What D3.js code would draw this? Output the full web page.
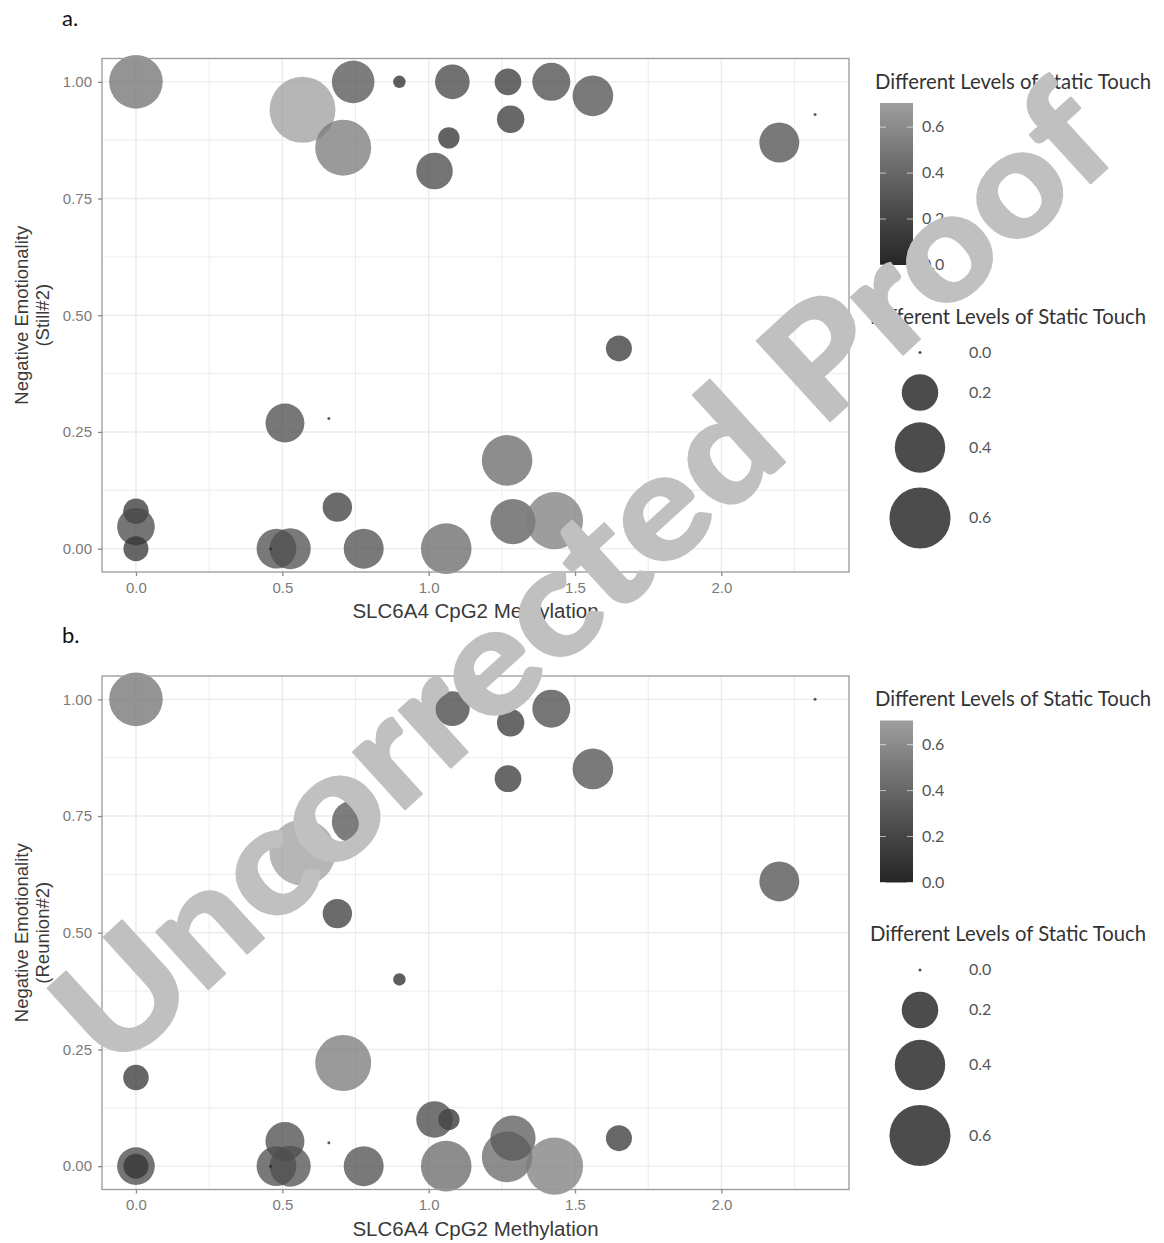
<!DOCTYPE html>
<html>
<head>
<meta charset="utf-8">
<script src="https://cdn.jsdelivr.net/npm/d3@7"></script>
<style>
  html, body { margin: 0; padding: 0; background: #fff; }
  svg { display: block; }
</style>
</head>
<body>
<svg id="chart" width="1164" height="1243"></svg>
<script>
// SLC6A4 CpG2 methylation for each infant
const methylation = [0.00, 0.569, 0.742, 0.900, 1.081, 0.708, 1.069, 1.020, 1.271, 1.419,
                     1.561, 1.280, 2.320, 2.198, 0.509, 0.659, 0.688, 0.000, 0.000, 0.000,
                     0.480, 0.527, 0.460, 0.778, 1.060, 1.650, 1.268, 1.288, 1.430];
// Different levels of static touch (mapped to both colour and size)
const staticTouch = [0.455, 0.705, 0.279, 0.016, 0.178, 0.500, 0.060, 0.200, 0.100, 0.218,
                     0.252, 0.106, 0.000, 0.243, 0.230, 0.000, 0.124, 0.090, 0.213, 0.086,
                     0.240, 0.257, 0.000, 0.243, 0.403, 0.094, 0.403, 0.316, 0.520];
// Negative emotionality, Still#2 episode
const stillNeg = [1.00, 0.94, 1.00, 1.00, 1.00, 0.859, 0.88, 0.809, 1.00, 1.00,
                  0.97, 0.92, 0.93, 0.87, 0.269, 0.279, 0.089, 0.08, 0.047, 0.00,
                  0.00, 0.00, 0.00, 0.00, 0.00, 0.429, 0.189, 0.058, 0.06];
// Negative emotionality, Reunion#2 episode
const reunionNeg = [1.00, 0.672, 0.738, 0.40, 0.98, 0.221, 0.10, 0.10, 0.83, 0.98,
                    0.851, 0.95, 1.00, 0.61, 0.053, 0.05, 0.541, 0.19, 0.00, 0.00,
                    0.00, 0.00, 0.00, 0.00, 0.00, 0.06, 0.02, 0.06, 0.00];

const xTicks = [0.0, 0.5, 1.0, 1.5, 2.0];
const yTicks = [0.00, 0.25, 0.50, 0.75, 1.00];
const colourTicks = [0.0, 0.2, 0.4, 0.6];
const sizeBreaks = [0.0, 0.2, 0.4, 0.6];
const legendTitle = "Different Levels of Static Touch";
const xTitle = "SLC6A4 CpG2 Methylation";

const svg = d3.select("#chart");
svg.append("rect").attr("width", 1164).attr("height", 1243).attr("fill", "#fff");

const touchMax = d3.max(staticTouch);
const colour = d3.scaleLinear().domain([0, touchMax]).range(["#262626", "#9e9e9e"])
  .interpolate(d3.interpolateLab);
const radius = d3.scalePow().exponent(0.5).domain([0, 1]).range([1.5, 39]);
const x = d3.scaleLinear().domain([-0.116, 2.436]).range([102, 849]);

const tickFont = "'Liberation Sans', Arial, sans-serif";
const legendFont = "Lato, 'Open Sans', sans-serif";

function drawPanel(top, yValues, yLines, tag) {
  const g = svg.append("g");
  const y = d3.scaleLinear().domain([-0.05, 1.05]).range([top + 513.5, top]);
  const [x0, x1] = x.range();
  const [y0, y1] = y.range();

  // panel grid (major + minor)
  const xMinor = d3.range(-0.25, 2.5, 0.25).filter(v => v > -0.116 && v < 2.436);
  const yMinor = d3.range(-0.125, 1.1, 0.125).filter(v => v > -0.05 && v < 1.05);
  g.selectAll(".gx").data(xMinor).join("line")
    .attr("x1", d => x(d)).attr("x2", d => x(d)).attr("y1", y1).attr("y2", y0)
    .attr("stroke", "#ebebeb").attr("stroke-width", d => (Math.abs(d * 2 - Math.round(d * 2)) < 1e-6 ? 1.4 : 0.9));
  g.selectAll(".gy").data(yMinor).join("line")
    .attr("y1", d => y(d)).attr("y2", d => y(d)).attr("x1", x0).attr("x2", x1)
    .attr("stroke", "#ebebeb").attr("stroke-width", d => (Math.abs(d * 4 - Math.round(d * 4)) < 1e-6 ? 1.4 : 0.9));

  // points
  const pts = methylation.map((m, i) => ({ m, t: staticTouch[i], v: yValues[i] }));
  g.selectAll("circle.pt").data(pts).join("circle")
    .attr("class", "pt")
    .attr("cx", d => x(d.m)).attr("cy", d => y(d.v))
    .attr("r", d => radius(d.t))
    .attr("fill", d => colour(d.t))
    .attr("fill-opacity", 0.75);

  // border
  g.append("rect").attr("x", x0).attr("y", y1).attr("width", x1 - x0).attr("height", y0 - y1)
    .attr("fill", "none").attr("stroke", "#999").attr("stroke-width", 1.3);

  // axes
  const xAxis = d3.axisBottom(x).tickValues(xTicks).tickFormat(d3.format(".1f")).tickSize(4).tickPadding(6);
  const ax = g.append("g").attr("transform", `translate(0,${y0})`).call(xAxis);
  const yAxis = d3.axisLeft(y).tickValues(yTicks).tickFormat(d3.format(".2f")).tickSize(4).tickPadding(6);
  const ay = g.append("g").attr("transform", `translate(${x0},0)`).call(yAxis);
  [ax, ay].forEach(a => {
    a.select(".domain").remove();
    a.selectAll(".tick line").attr("stroke", "#8a8a8a").attr("stroke-width", 1.3);
    a.selectAll(".tick text").attr("fill", "#7a7a7a").style("font-family", tickFont).style("font-size", "15px");
  });

  // axis titles
  g.append("text").attr("x", (x0 + x1) / 2).attr("y", y0 + 46)
    .attr("text-anchor", "middle").attr("fill", "#3a3a3a")
    .style("font-family", tickFont).style("font-size", "20.5px").text(xTitle);
  const yt = g.append("text")
    .attr("transform", `translate(28,${(y0 + y1) / 2}) rotate(-90)`)
    .attr("text-anchor", "middle").attr("fill", "#3a3a3a")
    .style("font-family", tickFont).style("font-size", "18.5px");
  yLines.forEach((line, i) => yt.append("tspan").attr("x", 0).attr("dy", i === 0 ? 0 : 21).text(line));

  // panel tag
  svg.append("text").attr("x", 62).attr("y", top - 33).attr("fill", "#111")
    .style("font-family", legendFont).style("font-size", "22px").text(tag);

  // colour legend
  const lx = 875, barX = 880, barW = 33;
  const barTop = top + 44.5, barBot = top + 206.5;
  svg.append("text").attr("x", lx).attr("y", top + 30).attr("fill", "#333")
    .style("font-family", legendFont).style("font-size", "20.3px").text(legendTitle);
  const gradId = "grad" + tag.replace(".", "");
  const grad = svg.append("defs").append("linearGradient").attr("id", gradId)
    .attr("x1", 0).attr("y1", 1).attr("x2", 0).attr("y2", 0);
  d3.range(0, 1.0001, 0.1).forEach(f => grad.append("stop")
    .attr("offset", f).attr("stop-color", colour(f * touchMax)));
  svg.append("rect").attr("x", barX).attr("y", barTop).attr("width", barW).attr("height", barBot - barTop)
    .attr("fill", `url(#${gradId})`);
  const cb = d3.scaleLinear().domain([0, touchMax]).range([barBot, barTop]);
  colourTicks.forEach(v => {
    const yy = cb(v);
    [[barX, barX + 6], [barX + barW - 6, barX + barW]].forEach(([a, b]) =>
      svg.append("line").attr("x1", a).attr("x2", b).attr("y1", yy).attr("y2", yy)
        .attr("stroke", "#fff").attr("stroke-opacity", 0.6).attr("stroke-width", 1));
    svg.append("text").attr("x", barX + barW + 9).attr("y", yy + 1).attr("dominant-baseline", "middle")
      .attr("fill", "#555").style("font-family", legendFont).style("font-size", "16px").text(v.toFixed(1));
  });

  // size legend
  svg.append("text").attr("x", 870).attr("y", top + 265).attr("fill", "#333")
    .style("font-family", legendFont).style("font-size", "20.3px").text(legendTitle);
  const keyY = [top + 294, top + 334, top + 389, top + 459.5];
  sizeBreaks.forEach((v, i) => {
    svg.append("circle").attr("cx", 920).attr("cy", keyY[i]).attr("r", radius(v))
      .attr("fill", "#000").attr("fill-opacity", 0.7);
    svg.append("text").attr("x", 969).attr("y", keyY[i] + 1).attr("dominant-baseline", "middle")
      .attr("fill", "#555").style("font-family", legendFont).style("font-size", "16px").text(v.toFixed(1));
  });
}

drawPanel(58.5, stillNeg, ["Negative Emotionality", "(Still#2)"], "a.");
drawPanel(676, reunionNeg, ["Negative Emotionality", "(Reunion#2)"], "b.");

// proof watermark
svg.append("text")
  .attr("transform", "translate(113,1076) rotate(-42.4)")
  .attr("text-anchor", "start")
  .attr("fill", "#c0c0c0").attr("stroke", "#c0c0c0").attr("stroke-width", 2).attr("stroke-linejoin", "round")
  .attr("textLength", 1368).attr("lengthAdjust", "spacingAndGlyphs")
  .style("font-family", "Lato, 'Open Sans', sans-serif").style("font-weight", 900)
  .style("font-size", "150px")
  .text("Uncorrected Proof");
</script>
</body>
</html>
